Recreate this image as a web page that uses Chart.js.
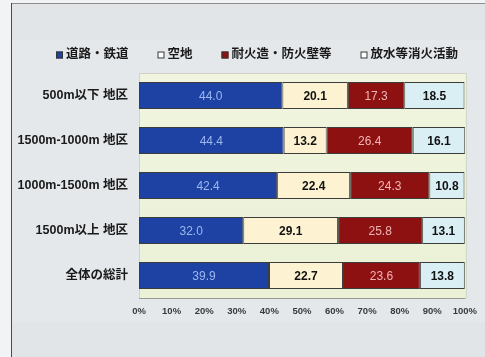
<!DOCTYPE html>
<html>
<head>
<meta charset="utf-8">
<script src="https://cdn.jsdelivr.net/npm/chart.js@4/dist/chart.umd.min.js"></script>
<style>
  html, body { margin: 0; padding: 0; background: #f2f3f5; }
  #wrap { width: 485px; height: 357px; }
</style>
</head>
<body>
<div id="wrap"><canvas id="barchart" width="485" height="357"></canvas></div>
<script>
// 地区別の延焼遮断要因の割合 (%)
const areas = ['500m以下 地区', '1500m-1000m 地区', '1000m-1500m 地区', '1500m以上 地区', '全体の総計'];
const roadRail = [44.0, 44.4, 42.4, 32.0, 39.9];   // 道路・鉄道
const openSpace = [20.1, 13.2, 22.4, 29.1, 22.7];  // 空地
const fireproof = [17.3, 26.4, 24.3, 25.8, 23.6];  // 耐火造・防火壁等
const waterSpray = [18.5, 16.1, 10.8, 13.1, 13.8]; // 放水等消火活動
const xTicks = [0, 10, 20, 30, 40, 50, 60, 70, 80, 90, 100];

const FONT = '"Liberation Sans", "Noto Sans CJK JP", sans-serif';

// 背景・枠線・プロット領域
const backdrop = {
  id: 'backdrop',
  beforeDraw(chart) {
    const { ctx, chartArea: a, width, height } = chart;
    ctx.save();
    ctx.fillStyle = '#f2f3f5';
    ctx.fillRect(0, 0, width, height);
    ctx.fillStyle = '#e1e5e8';
    ctx.fillRect(11, 3, width - 11, height - 3);
    ctx.fillStyle = '#e5e8eb';
    ctx.fillRect(12, 40, width - 12, 282);
    ctx.strokeStyle = '#8c8c8c';
    ctx.lineWidth = 1;
    ctx.beginPath();
    ctx.moveTo(11, 3.5); ctx.lineTo(width, 3.5);
    ctx.stroke();
    ctx.strokeStyle = '#4a4a4a';
    ctx.beginPath();
    ctx.moveTo(11.5, 3); ctx.lineTo(11.5, height);
    ctx.stroke();
    const g = ctx.createLinearGradient(0, a.top, 0, a.bottom);
    g.addColorStop(0, '#f1f5df');
    g.addColorStop(1, '#eaf1d6');
    ctx.fillStyle = g;
    ctx.fillRect(a.left, a.top, a.right - a.left + 2, a.bottom - a.top);
    ctx.strokeStyle = '#d0d4c8';
    ctx.strokeRect(a.left + 0.5, a.top + 0.5, a.right - a.left + 1, a.bottom - a.top);
    ctx.restore();
  }
};

// 凡例 (四角マーカー + ラベル)
const legendRow = {
  id: 'legendRow',
  afterDraw(chart) {
    const { ctx } = chart;
    ctx.save();
    ctx.font = 'bold 12.5px ' + FONT;
    ctx.textBaseline = 'middle';
    let x = 56;
    const y = 55;
    chart.data.datasets.forEach(ds => {
      ctx.fillStyle = ds.legendFill;
      ctx.fillRect(x, y - 3.5, 7, 7);
      ctx.strokeStyle = '#333';
      ctx.lineWidth = 1;
      ctx.strokeRect(x + 0.5, y - 3, 6, 6);
      ctx.fillStyle = '#1a1a1a';
      ctx.fillText(ds.label, x + 10, y);
      x += 10 + ctx.measureText(ds.label).width + 29;
    });
    ctx.restore();
  }
};

// 各区間の中央に値を表示
const segmentLabels = {
  id: 'segmentLabels',
  afterDatasetsDraw(chart) {
    const { ctx } = chart;
    ctx.save();
    ctx.textAlign = 'center';
    ctx.textBaseline = 'middle';
    chart.data.datasets.forEach((ds, i) => {
      const meta = chart.getDatasetMeta(i);
      ctx.fillStyle = ds.valueColor;
      ctx.font = (ds.valueBold ? 'bold ' : '') + '12px ' + FONT;
      meta.data.forEach((bar, j) => {
        const cx = (bar.x + bar.base) / 2;
        ctx.fillText(ds.data[j].toFixed(1), cx, bar.y + 1);
      });
    });
    ctx.restore();
  }
};

const ctx = document.getElementById('barchart').getContext('2d');

new Chart(ctx, {
  type: 'bar',
  data: {
    labels: areas,
    datasets: [
      { label: '道路・鉄道', data: roadRail, backgroundColor: '#1d42a3', legendFill: '#1d42a3', valueColor: '#9db7ef', valueBold: false },
      { label: '空地', data: openSpace, backgroundColor: '#fdf3d3', legendFill: '#ffffff', valueColor: '#111111', valueBold: true },
      { label: '耐火造・防火壁等', data: fireproof, backgroundColor: '#8e1111', legendFill: '#8e1111', valueColor: '#f0b5b5', valueBold: false },
      { label: '放水等消火活動', data: waterSpray, backgroundColor: '#d9eff4', legendFill: '#ffffff', valueColor: '#111111', valueBold: true }
    ].map(ds => Object.assign(ds, {
      borderColor: '#3c3c3c',
      borderWidth: 1,
      borderSkipped: false,
      categoryPercentage: 1.0,
      barPercentage: 0.6
    }))
  },
  options: {
    indexAxis: 'y',
    responsive: false,
    animation: false,
    layout: {
      padding: { top: 73, right: 19, bottom: 39, left: 0 }
    },
    plugins: {
      legend: { display: false },
      tooltip: { enabled: false }
    },
    scales: {
      x: {
        stacked: true,
        min: 0,
        max: 100,
        afterFit(scale) { scale.height = 20; },
        afterBuildTicks(scale) { scale.ticks = xTicks.map(v => ({ value: v })); },
        grid: { display: false, drawTicks: false },
        border: { display: true, color: '#9a9a9a' },
        ticks: {
          padding: 8,
          color: '#3a3a3a',
          font: { family: FONT, size: 9.5, weight: 'bold' },
          callback: v => v + '%'
        }
      },
      y: {
        stacked: true,
        afterFit(scale) { scale.width = 139; },
        grid: { display: false, drawTicks: false },
        border: { display: false },
        ticks: {
          padding: 11,
          color: '#1a1a1a',
          font: { family: FONT, size: 12.5, weight: 'bold' }
        }
      }
    }
  },
  plugins: [backdrop, legendRow, segmentLabels]
});
</script>
</body>
</html>
